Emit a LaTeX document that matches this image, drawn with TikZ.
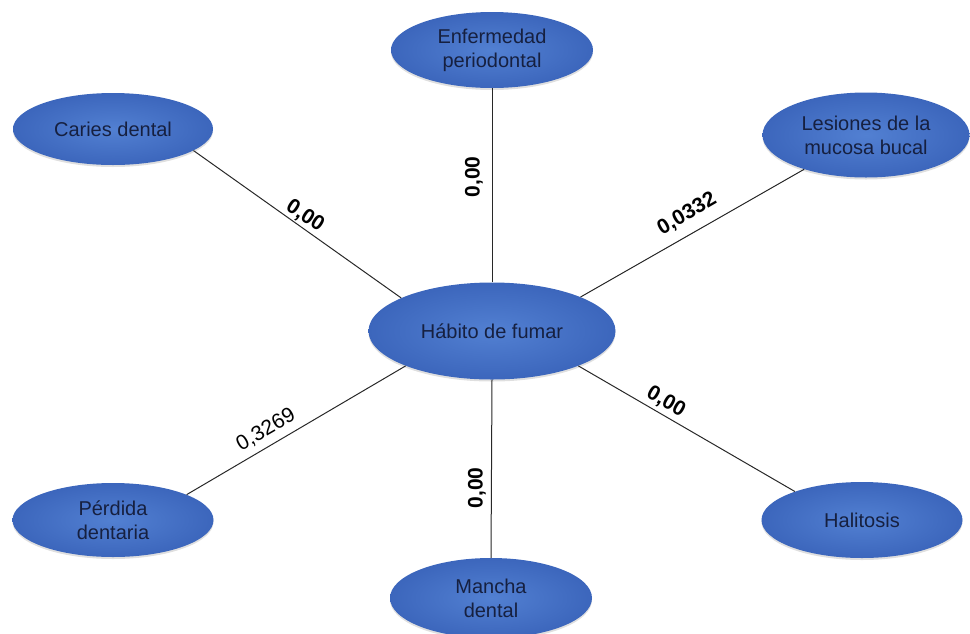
\documentclass[tikz,border=0pt]{standalone}
\usepackage{fontspec}
\setmainfont{Liberation Sans}
\usetikzlibrary{shapes.geometric,shadows}
\definecolor{ellin}{RGB}{82,128,210}
\definecolor{ellout}{RGB}{60,102,188}
\definecolor{etext}{RGB}{22,32,64}
\definecolor{lncol}{RGB}{40,40,40}
\begin{document}
\begin{tikzpicture}[x=1pt,y=-1pt,
  bub/.style={ellipse, inner sep=0pt, shade, inner color=ellin, outer color=ellout,
    text=etext, align=center, font=\fontsize{20}{24}\selectfont,
    drop shadow={opacity=0.25, shadow xshift=0pt, shadow yshift=-2pt, fill=gray}},
  link/.style={draw=lncol, line width=1pt},
  val/.style={font=\fontsize{21}{24}\selectfont\bfseries, text=black, inner sep=0pt},
  valn/.style={font=\fontsize{21}{24}\selectfont, text=black, inner sep=0pt}]
\useasboundingbox (0,0) rectangle (970,633);
\node[bub, minimum width=247pt, minimum height=97pt] (hab) at (492,331) {Hábito de fumar};
\node[bub, minimum width=202pt, minimum height=76pt] (enf) at (492,50) {Enfermedad\\periodontal};
\node[bub, minimum width=200pt, minimum height=72pt] (car) at (113,129) {Caries dental};
\node[bub, minimum width=207pt, minimum height=85pt] (les) at (866,135) {Lesiones de la\\mucosa bucal};
\node[bub, minimum width=201pt, minimum height=74pt] (per) at (113,520) {Pérdida\\dentaria};
\node[bub, minimum width=201pt, minimum height=76pt] (hal) at (862,520) {Halitosis};
\node[bub, minimum width=202pt, minimum height=80pt] (man) at (491,598) {Mancha\\dental};
\draw[link] (hab.160) -- (car.-15);
\draw[link] (hab.north) -- (enf.south);
\draw[link] (hab.21) -- (les.209);
\draw[link] (hab.-22) -- (hal.157);
\draw[link] (hab.202) -- (per.19);
\draw[link] (hab.south) -- (man.north);
\node[val, rotate=-33] (l1) at (305,216) {0,00};
\node[val, rotate=90] (l2) at (474,177) {0,00};
\node[val, rotate=30] (l3) at (687,214) {0,0332};
\node[val, rotate=-30] (l4) at (666,402) {0,00};
\node[valn, rotate=30] (l5) at (266,430) {0,3269};
\node[val, rotate=90] (l6) at (477,488) {0,00};
\end{tikzpicture}
\end{document}
